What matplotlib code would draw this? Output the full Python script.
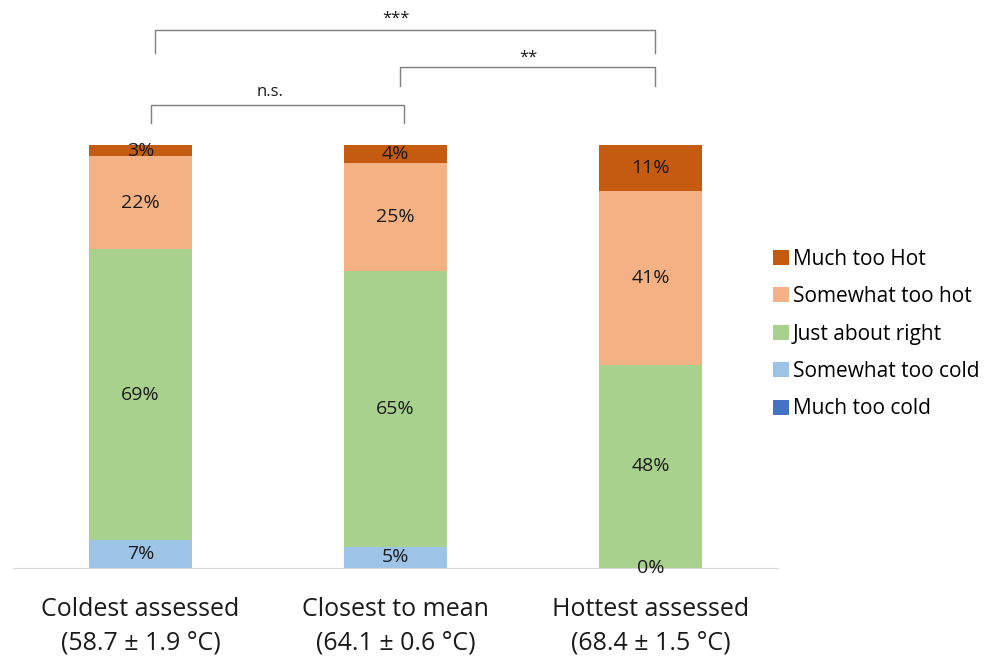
import matplotlib
matplotlib.use("Agg")
import matplotlib.pyplot as plt
from matplotlib.patches import Patch

plt.rcParams['font.family'] = ['Open Sans', 'DejaVu Sans']

# share of responses (%) per temperature group
groups = ["Coldest assessed\n(58.7 \u00b1 1.9 \u00b0C)",
          "Closest to mean\n(64.1 \u00b1 0.6 \u00b0C)",
          "Hottest assessed\n(68.4 \u00b1 1.5 \u00b0C)"]
much_too_cold = [0.0, 0.0, 0.0]
somewhat_too_cold = [6.6, 5.0, 0.0]
just_right = [68.8, 65.3, 48.0]
somewhat_too_hot = [22.0, 25.4, 41.1]
much_too_hot = [2.6, 4.3, 10.9]

series = [
    ("Much too cold", much_too_cold, "#4472C4", False),
    ("Somewhat too cold", somewhat_too_cold, "#9DC3E6", True),
    ("Just about right", just_right, "#A9D18E", True),
    ("Somewhat too hot", somewhat_too_hot, "#F4B183", True),
    ("Much too Hot", much_too_hot, "#C55A11", True),
]

# significance brackets: (x0, x1, top, bottom, label, label_x, label_y)
brackets = [
    (0.04, 1.035, 109.5, 105.2, "n.s.", 0.51, 112.6),
    (1.016, 2.016, 118.4, 114.0, "**", 1.52, 120.6),
    (0.055, 2.016, 127.2, 121.7, "***", 1.0, 129.8),
]

fig = plt.figure(figsize=(9.84, 6.59), dpi=100)
ax = fig.add_axes([13 / 984, 91 / 659, 765 / 984, 568 / 659])

x = range(len(groups))
bottom = [0.0] * len(groups)
handles = []
for name, vals, color, labelled in series:
    ax.bar(x, vals, width=0.404, bottom=bottom, color=color, edgecolor='none')
    if labelled:
        for i, v in enumerate(vals):
            ax.text(i, bottom[i] + v / 2, f"{round(v)}%", ha='center', va='center',
                    fontsize=14, color='#1a1a1a')
    bottom = [b + v for b, v in zip(bottom, vals)]
    handles.append(Patch(facecolor=color, label=name))

for x0, x1, top, bot, label, lx, ly in brackets:
    ax.plot([x0, x0, x1, x1], [bot, top, top, bot], color='#7f7f7f', lw=1.0,
            solid_joinstyle='round', clip_on=False)
    ax.text(lx, ly, label, ha='center', va='center', fontsize=12, color='#1a1a1a')

ax.set_xlim(-0.5, 2.5)
ax.set_ylim(0, 134.3)
ax.set_xticks(list(x))
ax.set_xticklabels(groups, fontsize=18, linespacing=1.42, color='#1a1a1a')
ax.tick_params(axis='x', length=0, pad=21)
ax.set_yticks([])
for side in ['top', 'left', 'right']:
    ax.spines[side].set_visible(False)
ax.spines['bottom'].set_color('#d9d9d9')

fig.legend(handles=handles[::-1], loc='center left', bbox_to_anchor=(773 / 984, 1 - 334 / 659),
           frameon=False, fontsize=15, handlelength=0.75, handleheight=0.75,
           handletextpad=0.2, labelspacing=0.79, borderpad=0, borderaxespad=0)

fig.savefig("out.png", dpi=100)
